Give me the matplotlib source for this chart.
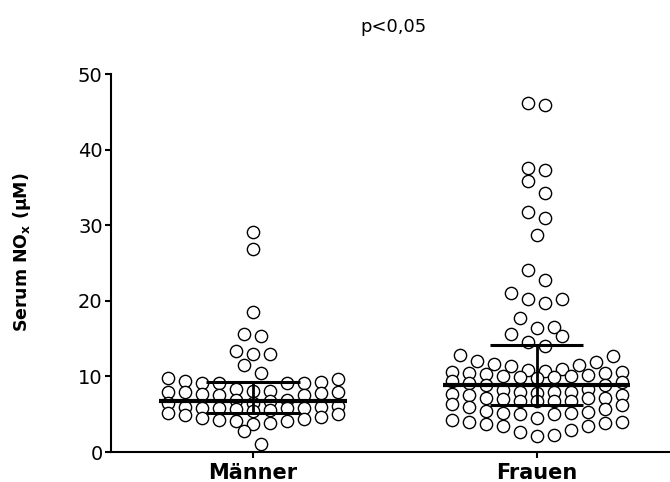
import matplotlib
matplotlib.rcParams["font.family"] = "DejaVu Sans"
import matplotlib.pyplot as plt
import numpy as np

# Data (serum NOx, µM)
groups = ["Männer", "Frauen"]
maenner = [29.1, 26.8, 18.5, 15.6, 15.3, 13.3, 13.0, 13.0, 11.5, 10.4,
           9.85, 9.6, 9.4, 9.2, 9.1, 9.1, 9.1, 9.1,
           8.3, 8.1, 8.1, 7.9, 7.9, 7.9, 7.75, 7.65, 7.6, 7.5,
           6.9, 6.9, 6.7, 6.55, 6.5, 6.1,
           5.9, 5.9, 5.8, 5.8, 5.8, 5.8, 5.7, 5.6, 5.4,
           5.15, 5.0, 4.9, 4.6, 4.45, 4.35, 4.3, 4.1, 4.1, 3.9, 3.7,
           2.8, 1.05]
frauen = [46.2, 45.9, 37.6, 37.3, 35.9, 34.3, 31.7, 31.0, 28.7, 24.1,
          22.7, 21.1, 20.2, 20.2, 19.7, 17.7, 16.6, 16.45, 15.6, 15.3,
          14.55, 14.0, 12.8, 12.7, 12.0, 11.9, 11.6, 11.5, 11.4, 11.0,
          10.8, 10.7, 10.6, 10.6, 10.5, 10.4, 10.3, 10.15, 10.05, 10.0,
          9.9, 9.9, 9.85, 9.4, 9.2, 9.1, 8.9, 8.8, 8.3, 8.2,
          7.95, 7.9, 7.9, 7.8, 7.65, 7.5, 7.5, 7.2, 7.2, 7.1,
          7.0, 6.8, 6.7, 6.7, 6.7, 6.3, 6.2, 5.9, 5.67, 5.45,
          5.3, 5.2, 5.15, 5.0, 5.0, 4.45, 4.3, 4.0, 4.0, 3.8,
          3.7, 3.5, 3.4, 2.95, 2.6, 2.25, 2.1]
medians = [6.7, 8.9]
q1 = [5.1, 6.2]
q3 = [9.3, 14.1]
p_text = "p<0,05"


def row_offsets(values, row_height, max_per_row):
    """Prism-style scatter: group sorted values into rows, spread each row from the centre outwards."""
    vals = np.asarray(values)
    rows = []
    for i in np.argsort(vals, kind="stable"):
        if rows and len(rows[-1]) < max_per_row and vals[i] - vals[rows[-1][0]] < row_height:
            rows[-1].append(i)
        else:
            rows.append([i])
    slots = np.zeros(len(vals))
    for row in rows:
        for j, i in enumerate(row):
            if len(row) % 2:
                slots[i] = ((j + 1) // 2) * (1 if j % 2 else -1)
            else:
                slots[i] = (j // 2 + 0.5) * (1 if j % 2 == 0 else -1)
    return slots


fig = plt.figure(figsize=(6.7, 4.82), dpi=100)
ax = fig.add_axes([0.1657, 0.0622, 0.8343, 0.7842])
ax.set_xlim(-0.5, 1.47)
ax.set_ylim(0, 50)

# horizontal step between neighbouring circles: 17 px in data units
px_per_x = ax.transData.transform((1, 0))[0] - ax.transData.transform((0, 0))[0]
step = 17.0 / px_per_x

for idx, values in enumerate([maenner, frauen]):
    slots = row_offsets(values, 2.25, 11)
    ax.scatter(idx + slots * step, values, s=78, facecolors="white", edgecolors="black",
               linewidths=1.0, zorder=2)
    # median line and interquartile range
    ax.plot([idx - 0.33, idx + 0.33], [medians[idx], medians[idx]], color="black", lw=3, zorder=3,
            solid_capstyle="butt")
    ax.plot([idx - 0.165, idx + 0.165], [q1[idx], q1[idx]], color="black", lw=2.2, zorder=3,
            solid_capstyle="butt")
    ax.plot([idx - 0.165, idx + 0.165], [q3[idx], q3[idx]], color="black", lw=2.2, zorder=3,
            solid_capstyle="butt")
    ax.plot([idx, idx], [q1[idx], q3[idx]], color="black", lw=2, zorder=3)

# Axes styling
for side in ["top", "right"]:
    ax.spines[side].set_visible(False)
for side in ["left", "bottom"]:
    ax.spines[side].set_linewidth(1.5)
ax.set_xticks(range(len(groups)))
ax.set_xticklabels(groups, fontsize=15, fontweight="bold")
ax.set_yticks(range(0, 51, 10))
ax.tick_params(axis="y", labelsize=14, length=4, width=1.5, pad=2)
ax.tick_params(axis="x", length=4, width=1.5, pad=4)

fig.text(22 / 670, 1 - 252 / 482, r"Serum NO$_{\mathbf{x}}$ (µM)", rotation=90,
         fontsize=12.5, fontweight="bold", ha="center", va="center")
fig.text(393 / 670, 1 - 27 / 482, p_text, fontsize=13, ha="center", va="center")

fig.savefig("out.png", dpi=100)
